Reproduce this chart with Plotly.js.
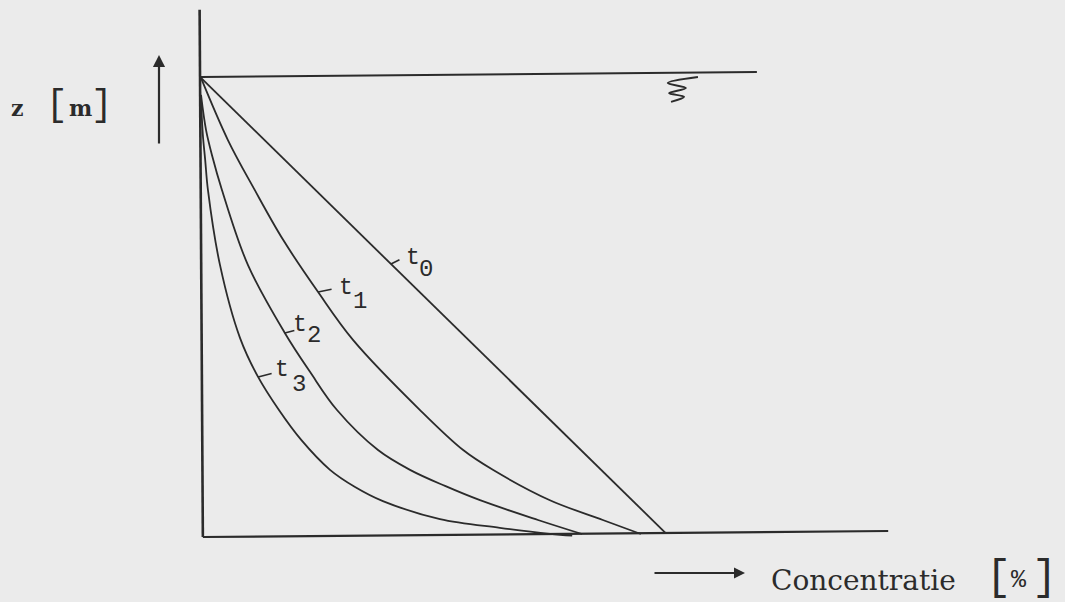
<!DOCTYPE html>
<html>
<head>
<meta charset="utf-8">
<script src="https://cdn.plot.ly/plotly-3.0.1.min.js"></script>
<style>
  html, body { margin: 0; padding: 0; background: #ebebeb; }
  #chart { width: 1065px; height: 602px; }
</style>
</head>
<body>
<div id="chart"></div>
<script>
// Concentration profiles c(z) below the water surface at successive times t0..t3.
// Concentration in % (horizontal), height z in m above the bottom (vertical).

const profileNames = ['t0', 't1', 't2', 't3'];

const concT0 = [0, 100.2];
const zT0    = [9.98, 0.08];

const concT1 = [0, 5.8, 11.6, 17.7, 25.2, 32.8, 47.2, 56.5, 62.9, 75.2, 86.6, 94.8];
const zT1    = [9.98, 8.63, 7.54, 6.46, 5.33, 4.28, 2.76, 1.89, 1.46, 0.80, 0.37, 0.065];

const concT2 = [0, 1.08, 2.37, 4.53, 10.13, 18.10, 23.49, 29.31, 38.15, 45.04, 52.59, 60.13, 72.63, 82.11];
const zT2    = [9.61, 8.85, 8.30, 7.54, 5.91, 4.43, 3.59, 2.76, 1.89, 1.46, 1.11, 0.80, 0.37, 0.065];

const concT3 = [0, 0.4, 0.9, 1.5, 4.1, 8.4, 12.3, 16.8, 21.6, 27.8, 33.2, 39.2, 51.5, 64.4, 75.2, 80.0];
const zT3    = [9.5, 8.74, 8.20, 7.54, 5.91, 4.33, 3.48, 2.76, 2.11, 1.46, 1.087, 0.78, 0.39, 0.20, 0.07, 0.03];

// height at which each profile carries its label
const labelZ = [5.935, 5.326, 4.435, 3.478];

// frame: z axis, bottom, water surface
const zAxisConc   = [0.4, -0.3];
const zAxisZ      = [0, 11.46];
const bottomConc  = [0.4, 148.1];
const bottomZ     = [0, 0.13];
const surfaceConc = [0, 119.8];
const surfaceZ    = [10.0, 10.11];

// water-level symbol hanging under the surface line
const waveConc = [107.1, 100.6, 104.5, 100.9, 104.1, 101.3];
const waveZ    = [10.0, 9.87, 9.76, 9.65, 9.57, 9.46];

const ink = '#2b2b2b';
const W = 1065, H = 602;
const px = v => v / W;          // pixel -> paper x
const py = v => 1 - v / H;      // pixel -> paper y

const profiles = [
  [concT0, zT0], [concT1, zT1], [concT2, zT2], [concT3, zT3]
];

function concAt(conc, z, zq) {
  for (let i = 0; i < z.length - 1; i++) {
    if ((z[i] - zq) * (z[i + 1] - zq) <= 0) {
      const f = (zq - z[i]) / (z[i + 1] - z[i]);
      return conc[i] + f * (conc[i + 1] - conc[i]);
    }
  }
  return conc[conc.length - 1];
}

const line = (x, y, width, shape) => ({
  type: 'scatter', mode: 'lines', x: x, y: y, hoverinfo: 'skip',
  line: { color: ink, width: width, shape: shape || 'linear', smoothing: 1 }
});

const traces = [
  line(zAxisConc, zAxisZ, 2.6),
  line(bottomConc, bottomZ, 2.2),
  line(surfaceConc, surfaceZ, 1.9),
  line(waveConc, waveZ, 2.0, 'spline')
];
profiles.forEach(([c, z], i) => {
  const tr = line(c, z, 1.8, i === 0 ? 'linear' : 'spline');
  tr.name = profileNames[i];
  traces.push(tr);
});

const monoFont = { family: 'Liberation Mono, DejaVu Sans Mono, monospace', color: ink };
const serifFont = { family: 'DejaVu Serif, Liberation Serif, serif', color: ink };

const text = (s, x, y, font, size, anchor) => ({
  xref: 'paper', yref: 'paper', x: px(x), y: py(y), text: s, showarrow: false,
  xanchor: anchor || 'center', yanchor: 'middle',
  font: Object.assign({}, font, { size: size })
});

const annotations = [
  // z axis title with arrow
  text('z', 18, 108, Object.assign({}, serifFont, { weight: 'bold' }), 22),
  text('[', 57, 106, monoFont, 36),
  text('m', 80, 108, Object.assign({}, serifFont, { weight: 'bold' }), 22),
  text(']', 102, 106, monoFont, 36),
  {
    xref: 'paper', yref: 'paper', x: px(159), y: py(55), ax: 0, ay: 90,
    text: '', showarrow: true, arrowhead: 2, arrowsize: 1.1, arrowwidth: 2.2, arrowcolor: ink
  },
  // concentration axis title with arrow
  {
    xref: 'paper', yref: 'paper', x: px(745), y: py(573), ax: -92, ay: 0,
    text: '', showarrow: true, arrowhead: 2, arrowsize: 1.1, arrowwidth: 2.0, arrowcolor: ink
  },
  text('Concentratie', 769, 580, serifFont, 28, 'left'),
  text('[', 998, 578, monoFont, 42),
  text('%', 1019, 580, monoFont, 25),
  text(']', 1044, 578, monoFont, 42)
];

// profile labels: t with a full-size lowered index, joined to the curve by a short leader
const tPos     = [[413, 258], [346, 288], [300, 325], [282, 370]];
const idxPos   = [[426, 270], [360, 301], [314, 335], [299, 384]];
const leaderOff = [[10, -5], [15, -3], [11, -3], [15, -4]];
profiles.forEach(([c, z], i) => {
  annotations.push(text('t', tPos[i][0], tPos[i][1], monoFont, 23));
  annotations.push(text(profileNames[i].slice(1), idxPos[i][0], idxPos[i][1], monoFont, 24));
  annotations.push({
    xref: 'x', yref: 'y', x: concAt(c, z, labelZ[i]), y: labelZ[i],
    ax: leaderOff[i][0], ay: leaderOff[i][1], text: '',
    showarrow: true, arrowhead: 0, arrowwidth: 1.6, arrowcolor: ink
  });
});

const layout = {
  width: W, height: H,
  margin: { l: 0, r: 0, t: 0, b: 0, pad: 0 },
  paper_bgcolor: '#ebebeb', plot_bgcolor: '#ebebeb',
  showlegend: false,
  xaxis: { range: [-201 / 4.64, (W - 201) / 4.64], visible: false, fixedrange: true },
  yaxis: { range: [(537 - H) / 46, 537 / 46], visible: false, fixedrange: true },
  annotations: annotations
};

Plotly.newPlot('chart', traces, layout, { staticPlot: true, displayModeBar: false });
</script>
</body>
</html>
